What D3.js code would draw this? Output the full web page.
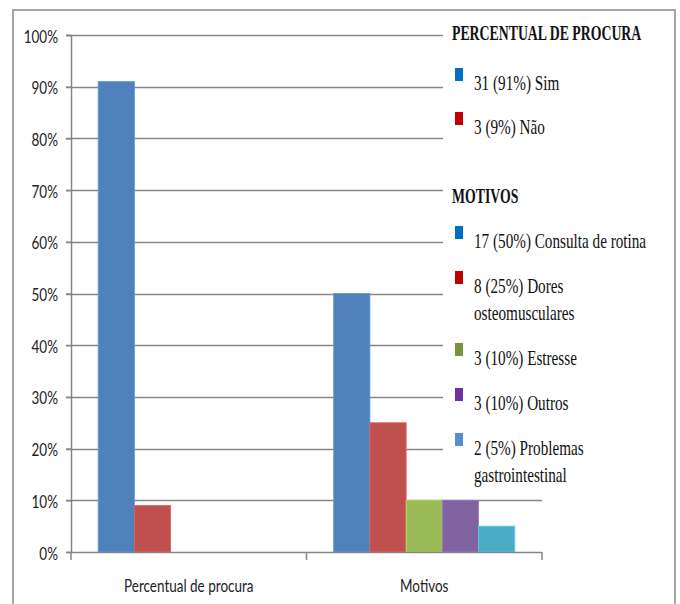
<!DOCTYPE html>
<html>
<head>
<meta charset="utf-8">
<script src="https://cdn.jsdelivr.net/npm/d3@7"></script>
<style>
  body { margin: 0; background: #fff; }
  svg { display: block; }
</style>
</head>
<body>
<div id="chart"></div>
<script>
const width = 680;
const height = 604;

// data
const categories = ["Percentual de procura", "Motivos"];
const seriesNames = ["s1", "s2", "s3", "s4", "s5"];
const seriesColors = ["#4F81BD", "#C0504D", "#9BBB59", "#8064A2", "#4BACC6"];
// value of each series per category (percent); null = no bar
const valuesProcura = [91, 9, null, null, null];
const valuesMotivos = [50, 25, 10, 10, 5];
const yTicks = [0, 10, 20, 30, 40, 50, 60, 70, 80, 90, 100];

const legendTitles = ["PERCENTUAL DE PROCURA", "MOTIVOS"];
const legendProcura = [["31 (91%) Sim"], ["3 (9%) Não"]];
const legendProcuraColors = ["#0070C0", "#C00000"];
const legendMotivos = [
  ["17 (50%) Consulta de rotina"],
  ["8 (25%) Dores", "osteomusculares"],
  ["3 (10%) Estresse"],
  ["3 (10%) Outros"],
  ["2 (5%) Problemas", "gastrointestinal"]
];
const legendMotivosColors = ["#0070C0", "#C00000", "#77933C", "#7030A0", "#558ED5"];

const rows = categories.map((c, i) => ({
  category: c,
  values: i === 0 ? valuesProcura : valuesMotivos
}));

const svg = d3.select("#chart")
  .append("svg")
  .attr("width", width)
  .attr("height", height);

// outer chart border
svg.append("rect")
  .attr("x", 13).attr("y", 10)
  .attr("width", 662).attr("height", 600)
  .attr("fill", "#fff")
  .attr("stroke", "#a6a6a6")
  .attr("stroke-width", 2);

const plot = { left: 71, right: 542, top: 35, bottom: 552 };

const x0 = d3.scaleBand()
  .domain(categories)
  .range([plot.left, plot.right])
  .padding(0);

const x1 = d3.scaleBand()
  .domain(seriesNames)
  .range([0, x0.bandwidth()])
  .paddingInner(0)
  .paddingOuter(0.75);

const y = d3.scaleLinear()
  .domain([0, 100])
  .range([plot.bottom, plot.top]);

const axisFont = "Lato, 'Open Sans', sans-serif";
const squeeze = 0.75;

// gridlines
svg.append("g")
  .selectAll("line")
  .data(yTicks.filter(d => d > 0))
  .join("line")
  .attr("x1", plot.left - 5)
  .attr("x2", plot.right)
  .attr("y1", d => Math.round(y(d)) + 0.5)
  .attr("y2", d => Math.round(y(d)) + 0.5)
  .attr("stroke", "#868686")
  .attr("stroke-width", 1.5);

// bars
const groups = svg.append("g")
  .selectAll("g")
  .data(rows)
  .join("g")
  .attr("transform", d => `translate(${x0(d.category)},0)`);

groups.selectAll("rect")
  .data(d => d.values.map((v, i) => ({ key: seriesNames[i], value: v, i })).filter(e => e.value != null))
  .join("rect")
  .attr("x", d => x1(d.key))
  .attr("width", x1.bandwidth())
  .attr("y", d => y(d.value))
  .attr("height", d => y(0) - y(d.value))
  .attr("fill", d => seriesColors[d.i])
  .attr("stroke", d => d3.color(seriesColors[d.i]).brighter(0.5))
  .attr("stroke-width", 0.8);

// y axis
const yAxis = svg.append("g")
  .attr("transform", `translate(${plot.left},0)`)
  .call(d3.axisLeft(y).tickValues(yTicks).tickSize(5).tickFormat(d => d + "%"));
yAxis.select(".domain").attr("stroke", "#868686").attr("stroke-width", 1.5);
yAxis.selectAll(".tick line").attr("stroke", "#868686").attr("stroke-width", 1.5);
yAxis.selectAll(".tick text")
  .attr("x", null).attr("dy", null)
  .attr("font-family", axisFont)
  .attr("font-size", 18)
  .attr("fill", "#222")
  .attr("text-anchor", "end")
  .attr("transform", `translate(-13,7) scale(${squeeze},1)`);

// x axis
svg.append("line")
  .attr("x1", plot.left).attr("x2", plot.right)
  .attr("y1", plot.bottom + 0.5).attr("y2", plot.bottom + 0.5)
  .attr("stroke", "#868686").attr("stroke-width", 1.5);

svg.append("g")
  .selectAll("line")
  .data(categories.map(c => x0(c)).concat([plot.right]))
  .join("line")
  .attr("x1", d => d).attr("x2", d => d)
  .attr("y1", plot.bottom).attr("y2", plot.bottom + 8)
  .attr("stroke", "#868686").attr("stroke-width", 1.5);

svg.append("g")
  .selectAll("text")
  .data(categories)
  .join("text")
  .attr("transform", d => `translate(${x0(d) + x0.bandwidth() / 2},592) scale(${squeeze},1)`)
  .attr("text-anchor", "middle")
  .attr("font-family", axisFont)
  .attr("font-size", 18)
  .attr("fill", "#222")
  .text(d => d);

// legend box (covers the right end of the upper gridlines)
svg.append("rect")
  .attr("x", 443).attr("y", 18)
  .attr("width", 230).attr("height", 472)
  .attr("fill", "#fff");

const legend = svg.append("g");
const serif = "Liberation Serif, DejaVu Serif, serif";
const legendSqueeze = 0.76;

function legendTitle(text, yPos) {
  legend.append("text")
    .attr("transform", `translate(452,${yPos}) scale(0.69,1)`)
    .style("font-family", serif)
    .attr("font-weight", "bold")
    .attr("font-size", 20)
    .attr("fill", "#111")
    .text(text);
}

function legendItems(items, colors, yStart, gaps) {
  let yPos = yStart;
  items.forEach((lines, i) => {
    legend.append("rect")
      .attr("x", 455).attr("y", yPos - 22)
      .attr("width", 8).attr("height", 13)
      .attr("fill", colors[i]);
    lines.forEach((line, j) => {
      legend.append("text")
        .attr("transform", `translate(474,${yPos + j * 27}) scale(${legendSqueeze},1)`)
        .style("font-family", serif)
        .attr("font-size", 20)
        .attr("fill", "#111")
        .text(line);
    });
    yPos += gaps + (lines.length - 1) * 27;
  });
}

legendTitle(legendTitles[0], 40);
legendItems(legendProcura, legendProcuraColors, 90, 44);
legendTitle(legendTitles[1], 203);
legendItems(legendMotivos, legendMotivosColors, 248, 45);
</script>
</body>
</html>
